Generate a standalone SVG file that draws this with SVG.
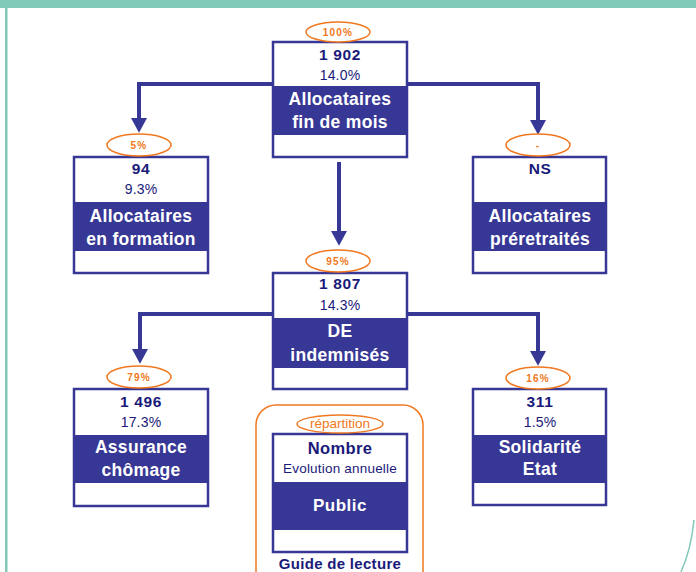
<svg xmlns="http://www.w3.org/2000/svg" width="696" height="572" viewBox="0 0 696 572">
<defs>
<style>
.box{fill:#fff;stroke:#373795;stroke-width:2.5}
.band{fill:#373795}
.num{font-family:"Liberation Sans",Arial,sans-serif;font-weight:bold;font-size:15.5px;fill:#1a1a7a;text-anchor:middle;letter-spacing:0.6px}
.evo{font-family:"Liberation Sans",Arial,sans-serif;font-size:14px;fill:#1a1a7a;text-anchor:middle;letter-spacing:0.2px}
.lab{font-family:"Liberation Sans",Arial,sans-serif;font-weight:bold;font-size:17.5px;fill:#fff;text-anchor:middle;letter-spacing:0.3px}
.pct{font-family:"Liberation Sans",Arial,sans-serif;font-weight:bold;font-size:10px;fill:#f07820;text-anchor:middle;letter-spacing:1.2px}
.ell{fill:#fff;stroke:#f07820;stroke-width:1.5}
.conn{fill:none;stroke:#373795;stroke-width:4}
</style>
<marker id="ah" markerUnits="userSpaceOnUse" markerWidth="16" markerHeight="16" refX="0" refY="7" orient="auto" viewBox="0 0 14 14">
<path d="M0,0 L13,7 L0,14 Z" fill="#373795"/>
</marker>
</defs>
<rect x="0" y="0" width="696" height="572" fill="#fff"/>
<rect x="0" y="0" width="696" height="8" fill="#80c8b8"/>
<rect x="5" y="8" width="2.5" height="564" fill="#80c8b8"/>
<path d="M694,520 Q691,550 681,572" fill="none" stroke="#80c8b8" stroke-width="1.5"/>

<g id="connectors">
<path class="conn" d="M273,84 H139 V118" marker-end="url(#ah)"/>
<path class="conn" d="M407,84 H538 V120" marker-end="url(#ah)"/>
<path class="conn" d="M339,162 V231" marker-end="url(#ah)"/>
<path class="conn" d="M273,314 H140 V349" marker-end="url(#ah)"/>
<path class="conn" d="M407,314 H538 V351" marker-end="url(#ah)"/>
</g>

<g id="node-allocataires-fin-de-mois">
<rect class="box" x="273" y="42" width="134" height="115"/>
<rect class="band" x="273" y="86" width="134" height="49"/>
<ellipse class="ell" cx="338" cy="32" rx="32" ry="10"/>
<text class="pct" x="338" y="36">100%</text>
<text class="num" x="340" y="60">1 902</text>
<text class="evo" x="340" y="80">14.0%</text>
<text class="lab" x="340" y="105">Allocataires</text>
<text class="lab" x="340" y="128">fin de mois</text>
</g>

<g id="node-allocataires-en-formation">
<rect class="box" x="74" y="157" width="134" height="116"/>
<rect class="band" x="74" y="202" width="134" height="49"/>
<ellipse class="ell" cx="139" cy="145" rx="32" ry="11"/>
<text class="pct" x="139" y="149">5%</text>
<text class="num" x="141" y="174">94</text>
<text class="evo" x="141" y="194">9.3%</text>
<text class="lab" x="141" y="222">Allocataires</text>
<text class="lab" x="141" y="245">en formation</text>
</g>

<g id="node-allocataires-preretraites">
<rect class="box" x="473" y="157" width="133" height="116"/>
<rect class="band" x="473" y="202" width="133" height="49"/>
<ellipse class="ell" cx="538" cy="145" rx="32" ry="11"/>
<text class="pct" x="538" y="149">-</text>
<text class="num" x="540" y="174">NS</text>
<text class="lab" x="540" y="222">Allocataires</text>
<text class="lab" x="540" y="245">préretraités</text>
</g>

<g id="node-de-indemnises">
<rect class="box" x="273" y="273" width="134" height="116"/>
<rect class="band" x="273" y="318" width="134" height="50"/>
<ellipse class="ell" cx="338" cy="261" rx="32" ry="11"/>
<text class="pct" x="338" y="265">95%</text>
<text class="num" x="340" y="289">1 807</text>
<text class="evo" x="340" y="310">14.3%</text>
<text class="lab" x="340" y="337">DE</text>
<text class="lab" x="340" y="361">indemnisés</text>
</g>

<g id="node-assurance-chomage">
<rect class="box" x="74" y="389" width="134" height="117"/>
<rect class="band" x="74" y="435" width="134" height="48"/>
<ellipse class="ell" cx="139" cy="377" rx="32" ry="11"/>
<text class="pct" x="139" y="381">79%</text>
<text class="num" x="141" y="407">1 496</text>
<text class="evo" x="141" y="427">17.3%</text>
<text class="lab" x="141" y="453">Assurance</text>
<text class="lab" x="141" y="476">chômage</text>
</g>

<g id="node-solidarite-etat">
<rect class="box" x="473" y="389" width="133" height="116"/>
<rect class="band" x="473" y="435" width="133" height="48"/>
<ellipse class="ell" cx="538" cy="378" rx="32" ry="11"/>
<text class="pct" x="538" y="382">16%</text>
<text class="num" x="540" y="407">311</text>
<text class="evo" x="540" y="427">1.5%</text>
<text class="lab" x="540" y="453">Solidarité</text>
<text class="lab" x="540" y="475">Etat</text>
</g>

<g id="legend">
<rect x="256" y="405" width="167" height="190" rx="20" fill="none" stroke="#f07820" stroke-width="1.5"/>
<rect class="box" x="273" y="434" width="134" height="118"/>
<rect class="band" x="273" y="482" width="134" height="48"/>
<ellipse class="ell" cx="340" cy="424" rx="43" ry="9"/>
<text x="340" y="428" font-family="'Liberation Sans',Arial,sans-serif" font-size="13.5" fill="#f07820" text-anchor="middle">répartition</text>
<text x="340" y="454" font-family="'Liberation Sans',Arial,sans-serif" font-size="16.5" font-weight="bold" fill="#1a1a7a" text-anchor="middle" letter-spacing="0.4">Nombre</text>
<text x="340" y="473" font-family="'Liberation Sans',Arial,sans-serif" font-size="13.5" fill="#1a1a7a" text-anchor="middle" letter-spacing="0.2">Evolution annuelle</text>
<text x="340" y="511" font-family="'Liberation Sans',Arial,sans-serif" font-size="17" font-weight="bold" fill="#fff" text-anchor="middle" letter-spacing="0.5">Public</text>
<text x="340" y="569" font-family="'Liberation Sans',Arial,sans-serif" font-size="15" font-weight="bold" fill="#1a1a7a" text-anchor="middle" letter-spacing="0.3">Guide de lecture</text>
</g>
</svg>
